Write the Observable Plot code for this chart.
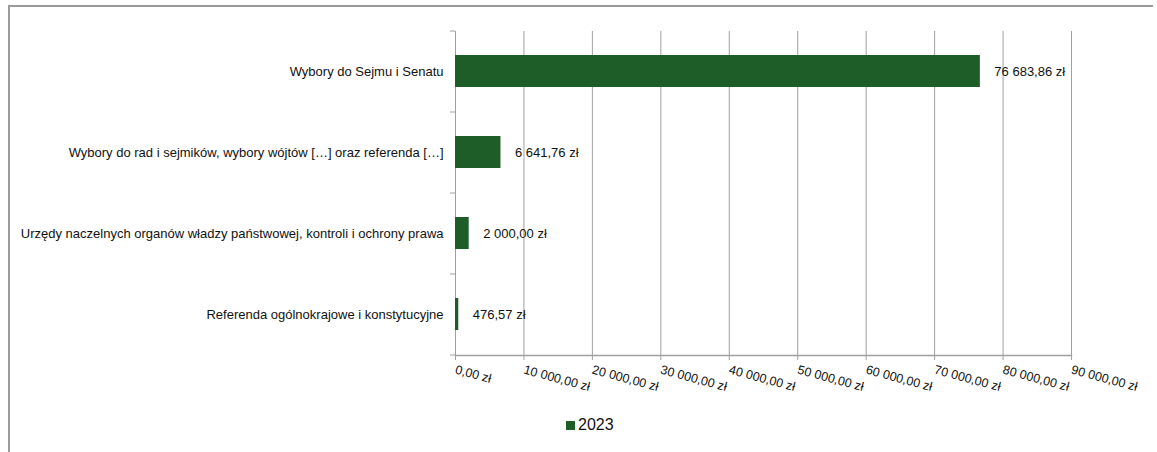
<!DOCTYPE html>
<html>
<head>
<meta charset="utf-8">
<script src="https://cdn.jsdelivr.net/npm/d3@7"></script>
<script src="https://cdn.jsdelivr.net/npm/@observablehq/plot@0.6"></script>
<style>
  html, body { margin: 0; padding: 0; background: #fff; }
  #wrap { position: relative; width: 1157px; height: 452px; overflow: hidden; font-family: "Liberation Sans", Arial, sans-serif; }
  #border { position: absolute; left: 8px; top: 5px; width: 1145px; height: 460px; border-top: 2px solid #9a9a9a; border-left: 2px solid #9a9a9a; box-sizing: border-box; }
  #chart { position: absolute; left: 0; top: 0; }
  #legend { position: absolute; left: 566px; top: 416px; display: flex; align-items: center; font-size: 16px; color: #111; }
  #legend .sw { width: 9px; height: 9px; background: #1e5c28; margin-right: 3px; }
</style>
</head>
<body>
<div id="wrap">
  <div id="border"></div>
  <div id="chart"></div>
  <div id="legend"><span class="sw"></span><span>2023</span></div>
</div>
<script>
const categories = [
  "Wybory do Sejmu i Senatu",
  "Wybory do rad i sejmików, wybory wójtów […] oraz referenda […]",
  "Urzędy naczelnych organów władzy państwowej, kontroli i ochrony prawa",
  "Referenda ogólnokrajowe i konstytucyjne"
];
const values2023 = [76683.86, 6641.76, 2000.00, 476.57];
const xTicks = [0, 10000, 20000, 30000, 40000, 50000, 60000, 70000, 80000, 90000];

const pl = d3.formatLocale({decimal: ",", thousands: " ", grouping: [3], currency: ["", " zł"]});
const fmt = v => pl.format(",.2f")(v) + " zł";

const data = categories.map((c, i) => ({category: c, value: values2023[i]}));
const barColor = "#1e5c28";
const grid = "#a0a0a0";

const chart = Plot.plot({
  width: 1157,
  height: 400,
  marginLeft: 455,
  marginRight: 86,
  marginTop: 31,
  marginBottom: 45,
  style: {fontFamily: "'Liberation Sans', Arial, sans-serif", fontSize: "13px", color: "#111", background: "transparent"},
  x: {domain: [0, 90000], axis: null},
  y: {domain: categories, paddingInner: 0.6, paddingOuter: 0.3, axis: null},
  marks: [
    Plot.gridX(xTicks, {stroke: grid, strokeOpacity: 1, strokeWidth: 1}),
    Plot.frame({anchor: "bottom", stroke: grid, strokeWidth: 1.5}),
    Plot.axisX({ticks: xTicks, tickFormat: fmt, tickRotate: 15, tickSize: 5, tickPadding: 9, stroke: grid, strokeOpacity: 1, fill: "#111", fontSize: 12.5, label: null}),
    Plot.axisY({ticks: categories, tickSize: 5, dy: -40.5, stroke: grid, strokeOpacity: 1, tickFormat: () => "", label: null}),
    Plot.axisY({ticks: categories.slice(-1), tickSize: 5, dy: 40.5, stroke: grid, strokeOpacity: 1, tickFormat: () => "", label: null}),
    Plot.axisY({ticks: categories, tickSize: 0, tickPadding: 12, fill: "#111", fontSize: 13, label: null}),
    Plot.barX(data, {y: "category", x: "value", fill: barColor}),
    Plot.text(data, {y: "category", x: "value", text: d => fmt(d.value), textAnchor: "start", dx: 14, fill: "#111", fontSize: 13})
  ]
});
document.getElementById("chart").appendChild(chart);
</script>
</body>
</html>
